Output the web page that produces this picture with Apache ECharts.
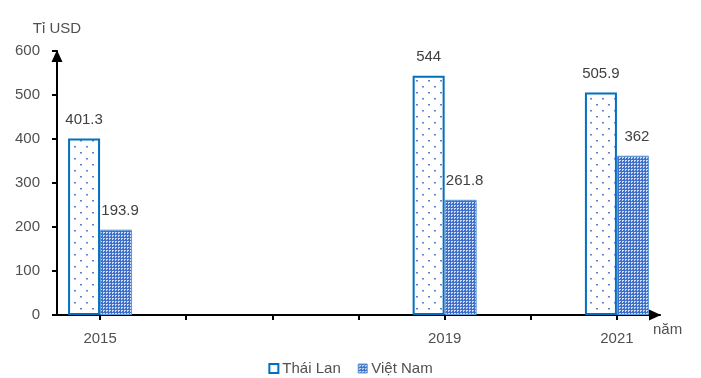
<!DOCTYPE html>
<html>
<head>
<meta charset="utf-8">
<script src="https://cdn.jsdelivr.net/npm/echarts@6/dist/echarts.min.js"></script>
<style>html,body{margin:0;padding:0;background:#fff}#c{width:701px;height:378px}</style>
</head>
<body>
<div id="c"></div>
<script>
const years = ['2015','2016','2017','2018','2019','2020','2021'];
const thaiLan = [401.3, '-', '-', '-', 544, '-', 505.9];
const vietNam = [193.9, '-', '-', '-', 261.8, '-', 362];
const labeledYears = ['2015','2019','2021'];
const yTicks = {min: 0, max: 600, interval: 100};

function dotPattern() {
  const c = document.createElement('canvas');
  c.width = 12; c.height = 12;
  const g = c.getContext('2d');
  g.fillStyle = '#ffffff'; g.fillRect(0,0,12,12);
  g.fillStyle = '#5b84d0';
  g.fillRect(2,2,2,1);
  g.fillRect(8,8,2,1);
  g.fillStyle = '#a9bfe8';
  g.fillRect(2,3,2,1);
  g.fillRect(8,9,2,1);
  return c;
}
function gridPattern() {
  const c = document.createElement('canvas');
  c.width = 3; c.height = 3;
  const g = c.getContext('2d');
  g.fillStyle = '#3f6fc8'; g.fillRect(0,0,3,3);
  g.fillStyle = '#d0dcf4';
  g.fillRect(1,1,2,1);
  g.fillRect(1,2,1,1);
  return c;
}
const thaiFill = {image: dotPattern(), repeat: 'repeat'};
const vnFill = {image: gridPattern(), repeat: 'repeat'};
const FONT = 'Liberation Sans';

const chart = echarts.init(document.getElementById('c'), null, {renderer: 'canvas'});
chart.setOption({
  animation: false,
  textStyle: {fontFamily: FONT},
  grid: {left: 57, right: 41, top: 51, bottom: 63, containLabel: false},
  legend: {
    data: [
      {name: 'Thái Lan', itemStyle: {color: '#ffffff', borderColor: '#0070C0', borderWidth: 2}},
      {name: 'Việt Nam', itemStyle: {color: vnFill, borderColor: '#5B9BD5', borderWidth: 1}}
    ],
    left: 'center', top: 356, icon: 'rect', itemWidth: 9, itemHeight: 9, itemGap: 17,
    textStyle: {fontFamily: FONT, fontSize: 15, color: '#505050', padding: [0,0,0,-1]}
  },
  xAxis: {
    type: 'category', data: years,
    name: 'năm', nameLocation: 'end', nameGap: -7,
    nameTextStyle: {fontFamily: FONT, fontSize: 15, color: '#505050', align: 'left', verticalAlign: 'top', padding: [7,0,0,0]},
    axisLine: {lineStyle: {color: '#000', width: 2}, symbol: ['none','triangle'], symbolSize: [11,12], symbolOffset: [0,-5]},
    axisTick: {show: true, alignWithLabel: true, interval: 0, length: 5, lineStyle: {color: '#000', width: 2}},
    axisLabel: {
      interval: function (i, v) { return labeledYears.indexOf(v) >= 0; },
      margin: 16, fontSize: 15, color: '#505050', fontFamily: FONT
    },
    splitLine: {show: false}
  },
  yAxis: {
    type: 'value', min: yTicks.min, max: yTicks.max, interval: yTicks.interval,
    name: 'Tỉ USD', nameLocation: 'end', nameGap: 15,
    nameTextStyle: {fontFamily: FONT, fontSize: 15, color: '#505050', align: 'center'},
    axisLine: {show: true, lineStyle: {color: '#000', width: 2}, symbol: ['none','triangle'], symbolSize: [11,12], symbolOffset: [0,-5]},
    axisTick: {show: true, length: 5, lineStyle: {color: '#000', width: 2}},
    axisLabel: {margin: 17, fontSize: 15, color: '#505050', fontFamily: FONT},
    splitLine: {show: false}
  },
  series: [
    {
      name: 'Thái Lan', type: 'bar', data: thaiLan, barWidth: 32, barGap: '0%',
      itemStyle: {color: thaiFill, borderColor: '#0070C0', borderWidth: 2},
      label: {show: true, position: 'top', distance: 11, fontSize: 15, color: '#404040', fontFamily: FONT}
    },
    {
      name: 'Việt Nam', type: 'bar', data: vietNam, barWidth: 32, barGap: '0%',
      itemStyle: {color: vnFill, borderColor: '#5B9BD5', borderWidth: 1},
      label: {show: true, position: 'top', distance: 11, fontSize: 15, color: '#404040', fontFamily: FONT, offset: [4,0]}
    }
  ]
});
</script>
</body>
</html>
